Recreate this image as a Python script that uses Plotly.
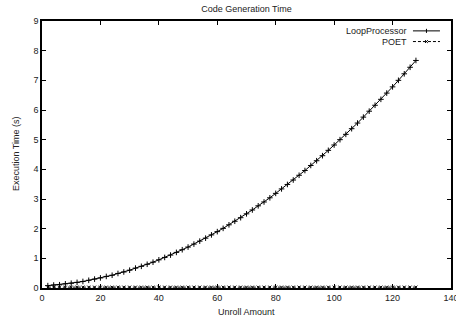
import plotly.graph_objects as go

# Data
unroll = [2, 4, 6, 8, 10, 12, 14, 16, 18, 20, 22, 24, 26, 28, 30, 32,
          34, 36, 38, 40, 42, 44, 46, 48, 50, 52, 54, 56, 58, 60, 62, 64,
          66, 68, 70, 72, 74, 76, 78, 80, 82, 84, 86, 88, 90, 92, 94, 96,
          98, 100, 102, 104, 106, 108, 110, 112, 114, 116, 118, 120, 122, 124, 126, 128]

loop_processor = [0.08, 0.10, 0.11, 0.14, 0.16, 0.19, 0.22, 0.26, 0.30, 0.34, 0.39, 0.43,
                  0.49, 0.54, 0.60, 0.67, 0.73, 0.80, 0.87, 0.95, 1.03, 1.11, 1.20, 1.29,
                  1.38, 1.48, 1.58, 1.68, 1.79, 1.90, 2.01, 2.13, 2.25, 2.37, 2.50, 2.63,
                  2.77, 2.90, 3.04, 3.19, 3.34, 3.49, 3.64, 3.80, 3.96, 4.13, 4.29, 4.46,
                  4.64, 4.82, 5.00, 5.18, 5.37, 5.56, 5.76, 5.96, 6.16, 6.36, 6.57, 6.78,
                  7.00, 7.22, 7.44, 7.67]

poet = [0.03, 0.03, 0.03, 0.03, 0.03, 0.03, 0.03, 0.03, 0.03, 0.03, 0.03, 0.03,
        0.03, 0.03, 0.03, 0.03, 0.03, 0.03, 0.03, 0.03, 0.03, 0.03, 0.03, 0.03,
        0.03, 0.03, 0.03, 0.03, 0.03, 0.03, 0.03, 0.03, 0.03, 0.03, 0.03, 0.03,
        0.03, 0.03, 0.03, 0.03, 0.03, 0.03, 0.03, 0.03, 0.03, 0.03, 0.03, 0.03,
        0.03, 0.03, 0.03, 0.03, 0.03, 0.03, 0.03, 0.03, 0.03, 0.03, 0.03, 0.03,
        0.03, 0.03, 0.03, 0.03]

x_ticks = [0, 20, 40, 60, 80, 100, 120, 140]
y_ticks = [0, 1, 2, 3, 4, 5, 6, 7, 8, 9]

series_names = ["LoopProcessor", "POET"]

FONT = "Liberation Sans, Arial, Helvetica, sans-serif"
TXT = "#222"

fig = go.Figure()
fig.add_trace(go.Scatter(
    x=unroll, y=loop_processor, mode="lines+markers", name=series_names[0],
    line=dict(color="black", width=1),
    marker=dict(symbol="cross-thin", size=4, color="black", line=dict(width=1, color="black")),
    cliponaxis=False,
))
fig.add_trace(go.Scatter(
    x=unroll, y=poet, mode="lines+markers", name=series_names[1],
    line=dict(color="black", width=1, dash="3px,2px"),
    marker=dict(symbol="x-thin", size=3, color="black", line=dict(width=1, color="black")),
    cliponaxis=False,
))

axis_common = dict(
    showline=True, linecolor="black", linewidth=1.5, mirror="ticks",
    ticks="inside", ticklen=4, tickwidth=1, tickcolor="black",
    showgrid=False, zeroline=False, automargin=False, ticklabeloverflow="allow",
    tickfont=dict(family=FONT, size=9, color=TXT),
)

fig.update_layout(
    width=456, height=318,
    margin=dict(l=42, r=5, t=21, b=30),
    paper_bgcolor="white", plot_bgcolor="white",
    showlegend=False,
    title=dict(text="Code Generation Time", x=0.5, xref="paper", y=1 - 8.5 / 318,
               yanchor="middle", xanchor="center",
               font=dict(family=FONT, size=9, color=TXT)),
    xaxis=dict(range=[0, 140], tickvals=x_ticks, **axis_common),
    yaxis=dict(range=[0, 9], tickvals=y_ticks, **axis_common),
)

# axis titles
fig.add_annotation(xref="paper", yref="paper", x=0.5, y=-24 / 267.6, text="Unroll Amount",
                   showarrow=False, xanchor="center", yanchor="middle",
                   font=dict(family=FONT, size=9, color=TXT))
fig.add_annotation(xref="paper", yref="paper", x=-26 / 409, y=(288.3 - 154) / 267.6,
                   text="Execution Time (s)", textangle=-90,
                   showarrow=False, xanchor="center", yanchor="middle",
                   font=dict(family=FONT, size=9, color=TXT))

# gnuplot-style legend (text right, sample on the right side)
leg_y = [0.963, 0.923]
for name, yy, dash, sym in zip(series_names, leg_y, ["solid", "3px,2px"], ["+", "x"]):
    fig.add_annotation(xref="paper", yref="paper", x=0.897, y=yy, text=name,
                       showarrow=False, xanchor="right", yanchor="middle",
                       font=dict(family=FONT, size=9, color=TXT))
    fig.add_shape(type="line", xref="paper", yref="paper", x0=0.907, x1=0.973, y0=yy, y1=yy,
                  line=dict(color="black", width=1, dash=dash))
    cx, cy, d = 0.940, yy, 0.005
    dy = d * 409 / 267.6
    if sym == "+":
        fig.add_shape(type="line", xref="paper", yref="paper", x0=cx, x1=cx, y0=cy - dy, y1=cy + dy,
                      line=dict(color="black", width=1))
    else:
        fig.add_shape(type="line", xref="paper", yref="paper", x0=cx - d * 0.7, x1=cx + d * 0.7,
                      y0=cy - dy * 0.7, y1=cy + dy * 0.7, line=dict(color="black", width=1))
        fig.add_shape(type="line", xref="paper", yref="paper", x0=cx - d * 0.7, x1=cx + d * 0.7,
                      y0=cy + dy * 0.7, y1=cy - dy * 0.7, line=dict(color="black", width=1))

fig.write_html(
    "out.html",
    config={"displayModeBar": False},
    post_script="document.body.style.margin='0px';document.body.style.overflow='hidden';",
)
